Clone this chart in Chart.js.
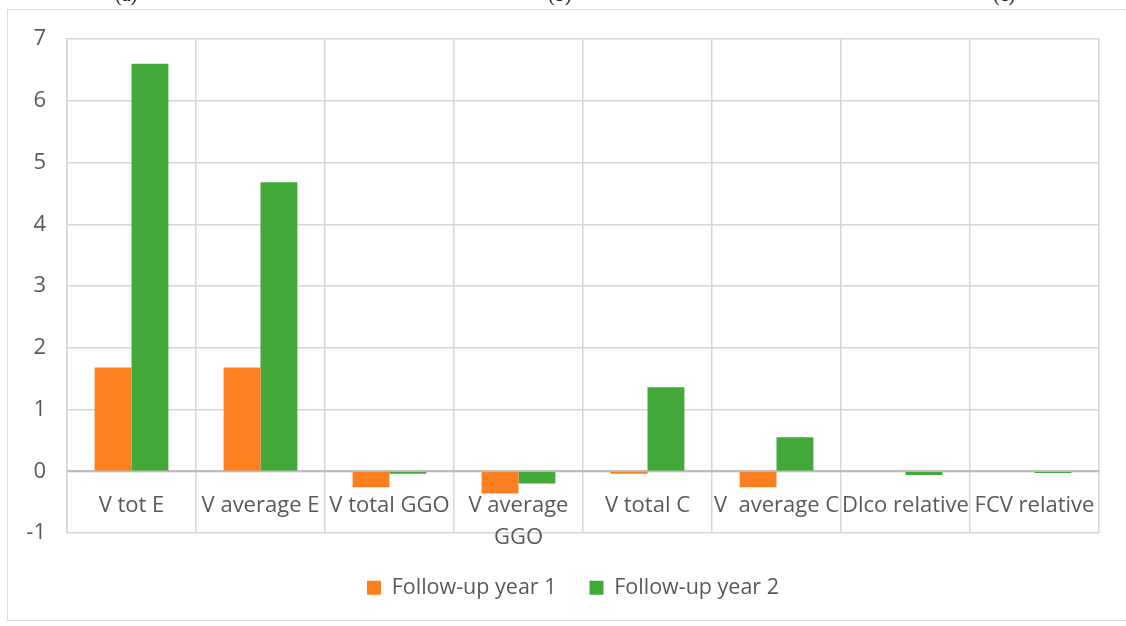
<!DOCTYPE html>
<html>
<head>
<meta charset="utf-8">
<script src="https://cdn.jsdelivr.net/npm/chart.js@4.4.1/dist/chart.umd.min.js"></script>
<style>
  html, body { margin: 0; padding: 0; background: #fff; width: 1126px; height: 626px; overflow: hidden; position: relative; font-family: "Open Sans", sans-serif; }
  #frame { position: absolute; left: 7px; top: 9px; width: 1130px; height: 612px; border: 1.5px solid #dcdcdc; box-sizing: border-box; }
  #wrap { position: absolute; left: 0; top: 0; width: 1110px; height: 626px; }
  .cap { position: absolute; top: -17px; font: 20px "Liberation Serif", serif; color: #222; }
</style>
</head>
<body>
<div class="cap" style="left:115px">(a)</div>
<div class="cap" style="left:548px">(b)</div>
<div class="cap" style="left:993px">(c)</div>
<div id="frame"></div>
<div id="wrap"><canvas id="c" width="1110" height="626"></canvas></div>
<script>
const categories = ['V tot E', 'V average E', 'V total GGO', ['V average', 'GGO'], 'V total C', 'V  average C', 'Dlco relative', 'FCV relative'];
const seriesNames = ['Follow-up year 1', 'Follow-up year 2'];
const year1 = [1.68, 1.68, -0.26, -0.36, -0.04, -0.26, 0, 0];
const year2 = [6.6, 4.68, -0.04, -0.2, 1.36, 0.55, -0.06, -0.03];
const yTicks = { min: -1, max: 7, step: 1 };

const gridCol = '#d6d6d6';
const textCol = '#595959';
const axisFont = { family: '"Open Sans", sans-serif', size: 22 };
const legendFont = { family: '"Open Sans", sans-serif', size: 21.5 };

// place the legend row below the plot, centred like the original
const legendNudge = {
  id: 'legendNudge',
  afterLayout(chart) {
    const l = chart.legend;
    l.top = 544;
    l.bottom = 626;
    l.height = l.bottom - l.top;
    l.left = 47;
    l.right = chart.chartArea.right;
    l.width = l.right - l.left;
  }
};

new Chart(document.getElementById('c'), {
  type: 'bar',
  data: {
    labels: categories,
    datasets: [
      { label: seriesNames[0], data: year1, backgroundColor: '#FD7F20', borderWidth: 0 },
      { label: seriesNames[1], data: year2, backgroundColor: '#43AA3A', borderWidth: 0 }
    ]
  },
  options: {
    responsive: false,
    animation: false,
    events: [],
    layout: { padding: { left: 0, right: 11, top: 39, bottom: 53 } },
    datasets: { bar: { categoryPercentage: 0.572, barPercentage: 1.0 } },
    scales: {
      x: {
        position: { y: 0 },
        offset: true,
        afterFit(scale) { scale.paddingLeft = 0; scale.paddingRight = 0; },
        grid: { offset: true, color: gridCol, lineWidth: 1.5, drawTicks: false },
        border: { display: true, color: '#bdbdbd', width: 2 },
        ticks: { color: textCol, font: { ...axisFont, lineHeight: 1.45 }, padding: 19, maxRotation: 0, autoSkip: false }
      },
      y: {
        min: yTicks.min, max: yTicks.max,
        afterFit(scale) { scale.width = 67; },
        grid: { color: gridCol, lineWidth: 1.5, drawTicks: false },
        border: { display: true, color: gridCol, width: 1.5 },
        ticks: { stepSize: yTicks.step, color: textCol, font: axisFont, padding: 21 }
      }
    },
    plugins: {
      legend: {
        position: 'bottom',
        maxHeight: 40,
        labels: { color: textCol, font: legendFont, boxWidth: 14, boxHeight: 14, padding: 33 }
      },
      tooltip: { enabled: false }
    }
  },
  plugins: [legendNudge]
});
</script>
</body>
</html>
